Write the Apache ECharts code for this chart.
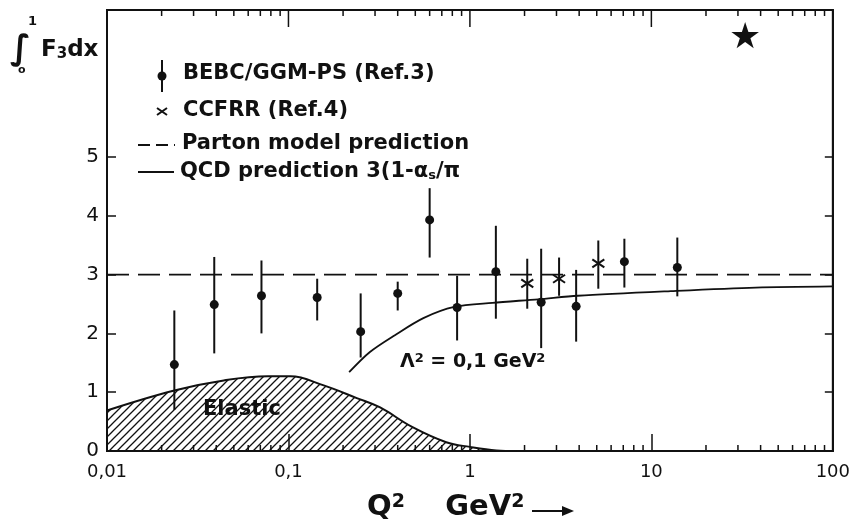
<!DOCTYPE html>
<html>
<head>
<meta charset="utf-8">
<script src="https://cdn.jsdelivr.net/npm/echarts@6/dist/echarts.min.js"></script>
<style>
html,body{margin:0;padding:0;background:#fff;}
#chart{width:853px;height:525px;}
</style>
</head>
<body>
<div id="chart"></div>
<script>
// BEBC/GGM-PS points (Q2, value, error low, error high)
var bebcQ2  = [0.0235,0.039,0.071,0.144,0.25,0.40,0.60,0.85,1.39,2.47,3.85,7.1,13.9];
var bebcVal = [1.47,2.49,2.64,2.61,2.03,2.68,3.93,2.44,3.05,2.53,2.46,3.22,3.12];
var bebcLo  = [0.70,1.66,2.00,2.22,1.59,2.39,3.29,1.88,2.25,1.75,1.86,2.78,2.63];
var bebcHi  = [2.39,3.30,3.24,2.93,2.68,2.88,4.47,2.98,3.83,3.44,3.08,3.61,3.63];
// CCFRR points
var ccfrrQ2  = [2.07,3.1,5.1];
var ccfrrVal = [2.85,2.93,3.19];
var ccfrrLo  = [2.42,2.64,2.76];
var ccfrrHi  = [3.27,3.29,3.58];
// parton model prediction
var partonQ2  = [0.01,100];
var partonVal = [3,3];
// QCD prediction curve, Lambda^2 = 0.1 GeV^2
var qcdQ2  = [0.216,0.28,0.386,0.554,0.82,1.33,2.38,3.93,12.8,37.6,100];
var qcdVal = [1.34,1.68,1.97,2.26,2.45,2.52,2.58,2.64,2.72,2.78,2.80];
// elastic contribution
var elQ2  = [0.01,0.0235,0.044,0.077,0.1026,0.155,0.238,0.32,0.48,0.74,1.0,1.4,1.8];
var elVal = [0.69,1.03,1.20,1.27,1.27,1.12,0.90,0.74,0.41,0.15,0.07,0.01,0];
// axis ticks
var yTicks = [0,1,2,3,4,5];
var xMajor = [0.1,1,10];
var xMinor = [0.02,0.03,0.04,0.05,0.06,0.07,0.08,0.09,
              0.2,0.3,0.4,0.5,0.6,0.7,0.8,0.9,
              2,3,4,5,6,7,8,9,
              20,30,40,50,60,70,80,90];

var ink = '#111';
var fontFam = 'DejaVu Sans';
var yTop = 7.5;

// hatch pattern for the elastic area
var pat = document.createElement('canvas');
pat.width = 8; pat.height = 8;
var c = pat.getContext('2d');
c.strokeStyle = ink; c.lineWidth = 1.3;
c.beginPath();
c.moveTo(0,8); c.lineTo(8,0);
c.moveTo(-2,2); c.lineTo(2,-2);
c.moveTo(6,10); c.lineTo(10,6);
c.stroke();

function zip(){
    var arrs = arguments, out = [];
    for(var i=0;i<arrs[0].length;i++){
        var row = [];
        for(var j=0;j<arrs.length;j++) row.push(arrs[j][i]);
        out.push(row);
    }
    return out;
}

function renderErr(kind){
    return function(params, api){
        var p  = api.coord([api.value(0), api.value(1)]);
        var pl = api.coord([api.value(0), api.value(2)]);
        var ph = api.coord([api.value(0), api.value(3)]);
        var st = {stroke: ink, lineWidth: 2};
        var children = [{type:'line', shape:{x1:pl[0],y1:pl[1],x2:ph[0],y2:ph[1]}, style:st}];
        if(kind === 'dot'){
            children.push({type:'circle', shape:{cx:p[0],cy:p[1],r:4.5}, style:{fill:ink}});
        }else{
            children.push({type:'line', shape:{x1:p[0]-6,y1:p[1]-4,x2:p[0]+6,y2:p[1]+4}, style:st});
            children.push({type:'line', shape:{x1:p[0]-6,y1:p[1]+4,x2:p[0]+6,y2:p[1]-4}, style:st});
        }
        return {type:'group', children:children};
    }
}

// ticks on bottom and top frame: value, length
function renderTicks(params, api){
    var len = api.value(1);
    var b = api.coord([api.value(0), 0]);
    var t = api.coord([api.value(0), yTop]);
    var st = {stroke: ink, lineWidth: 1.5};
    var children = [{type:'line', shape:{x1:t[0],y1:t[1],x2:t[0],y2:t[1]+len}, style:st}];
    if(len < 10) children.push({type:'line', shape:{x1:b[0],y1:b[1],x2:b[0],y2:b[1]-len}, style:st});
    return {type:'group', children:children};
}

function fmtX(v){
    return String(+v.toPrecision(3)).replace('.', ',');
}

var txt = function(x, y, s, size, rich){
    return {type:'text', x:x, y:y, style:{
        text:s, fill:ink, fontSize:size, fontFamily:fontFam, fontWeight:'bold',
        verticalAlign:'middle', rich:rich || {}
    }};
};
var richSub = function(size, big){
    return {
        n: {fontSize: big, fontFamily: fontFam, fontWeight: 'bold', fill: ink},
        s: {fontSize: size, fontFamily: fontFam, fontWeight: 'bold', fill: ink, verticalAlign: 'bottom'},
        p: {fontSize: size, fontFamily: fontFam, fontWeight: 'bold', fill: ink, verticalAlign: 'top'}
    };
};

var myChart = echarts.init(document.getElementById('chart'));
var option = {
    animation: false,
    backgroundColor: '#fff',
    grid: {left: 107, right: 12, top: 10, bottom: 74, show: true, borderColor: ink, borderWidth: 2, backgroundColor: 'transparent'},
    xAxis: {
        type: 'log', logBase: 10, min: 0.01, max: 100, position: 'bottom',
        axisLine: {lineStyle: {color: ink, width: 2}},
        axisTick: {inside: true, length: 17, lineStyle: {color: ink, width: 1.5}},
        axisLabel: {color: ink, fontSize: 18, fontFamily: fontFam, margin: 12, formatter: fmtX},
        splitLine: {show: false}
    },
    yAxis: [{
        type: 'value', min: 0, max: yTop, interval: 1, position: 'left',
        axisLine: {show: true, lineStyle: {color: ink, width: 2}},
        axisTick: {inside: true, length: 9, customValues: yTicks, lineStyle: {color: ink, width: 1.5}},
        axisLabel: {color: ink, fontSize: 20, fontFamily: fontFam, margin: 8, customValues: yTicks,
            formatter: function(v){ return v <= 5 ? String(v) : ''; }},
        splitLine: {show: false}
    },{
        type: 'value', min: 0, max: yTop, interval: 1, position: 'right',
        axisLine: {show: true, lineStyle: {color: ink, width: 2}},
        axisTick: {inside: true, length: 8, customValues: yTicks, lineStyle: {color: ink, width: 1.5}},
        axisLabel: {show: false},
        splitLine: {show: false}
    }],
    series: [{
        name: 'Elastic', type: 'line', data: zip(elQ2, elVal), smooth: 0.4,
        symbol: 'none', lineStyle: {color: ink, width: 2},
        areaStyle: {color: {image: pat, repeat: 'repeat'}, opacity: 1}
    },{
        name: 'Parton model prediction', type: 'line', data: zip(partonQ2, partonVal),
        symbol: 'none', lineStyle: {color: ink, width: 1.8, type: [22, 9]}
    },{
        name: 'QCD prediction', type: 'line', data: zip(qcdQ2, qcdVal), smooth: 0.3,
        symbol: 'none', lineStyle: {color: ink, width: 1.8}
    },{
        name: 'BEBC/GGM-PS', type: 'custom', renderItem: renderErr('dot'),
        data: zip(bebcQ2, bebcVal, bebcLo, bebcHi), z: 5
    },{
        name: 'CCFRR', type: 'custom', renderItem: renderErr('cross'),
        data: zip(ccfrrQ2, ccfrrVal, ccfrrLo, ccfrrHi), z: 5
    },{
        name: 'ticks', type: 'custom', renderItem: renderTicks, silent: true, clip: false,
        data: xMinor.map(function(v){ return [v, 6]; }).concat(xMajor.map(function(v){ return [v, 17]; }))
    }],
    graphic: [
        // y axis title
        txt(10, 50, '\u222B', 34),
        txt(28, 22, '1', 13),
        txt(18, 70, 'o', 11),
        txt(41, 50, '{n|F}{s|3}{n|dx}', 23, richSub(15, 23)),
        // legend
        {type:'line', shape:{x1:162,y1:60,x2:162,y2:92}, style:{stroke:ink, lineWidth:2}},
        {type:'circle', shape:{cx:162,cy:76,r:4.5}, style:{fill:ink}},
        txt(183, 74, 'BEBC/GGM-PS (Ref.3)', 21),
        {type:'line', shape:{x1:157,y1:108,x2:167,y2:115}, style:{stroke:ink, lineWidth:2}},
        {type:'line', shape:{x1:157,y1:115,x2:167,y2:108}, style:{stroke:ink, lineWidth:2}},
        txt(183, 111, 'CCFRR (Ref.4)', 21),
        {type:'line', shape:{x1:138,y1:145,x2:175,y2:145}, style:{stroke:ink, lineWidth:1.8, lineDash:[12,6]}},
        txt(182, 144, 'Parton model prediction', 21),
        {type:'line', shape:{x1:138,y1:172,x2:174,y2:172}, style:{stroke:ink, lineWidth:1.8}},
        txt(180, 172, '{n|QCD prediction 3(1-\u03B1}{s|s}{n|/\u03C0}', 21, richSub(13, 21)),
        // annotations
        txt(203, 410, 'Elastic', 21),
        txt(400, 362, '{n|\u039B}{p|2}{n| = 0,1 GeV}{p|2}', 19, richSub(13, 19)),
        txt(729, 39, '\u2605', 36),
        // x axis title
        txt(367, 507, '{n|Q}{p|2}{n|    GeV}{p|2}', 29, richSub(19, 29)),
        {type:'line', shape:{x1:532,y1:511,x2:566,y2:511}, style:{stroke:ink, lineWidth:2}},
        {type:'polygon', shape:{points:[[562,506],[574,511],[562,516]]}, style:{fill:ink}}
    ]
};
myChart.setOption(option);
</script>
</body>
</html>
